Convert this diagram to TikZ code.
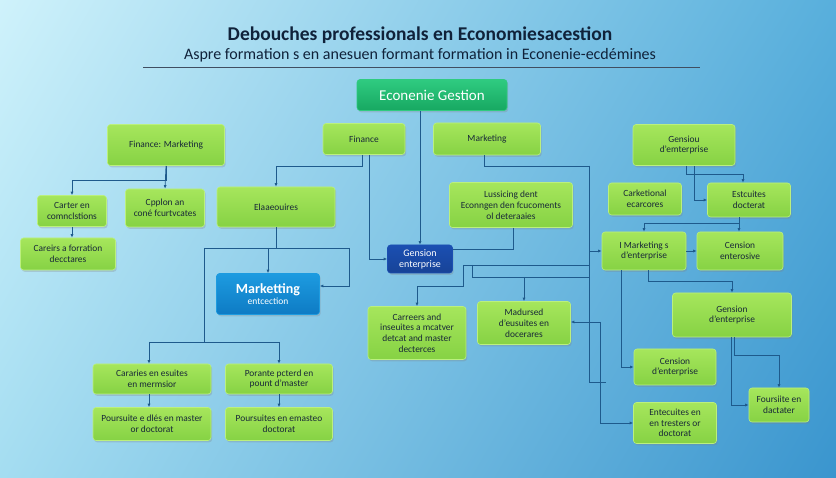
\documentclass[tikz,border=0pt]{standalone}
\usepackage{fontspec}
\setmainfont{Carlito}
\usetikzlibrary{positioning}
\usetikzlibrary{arrows.meta}
\usetikzlibrary{shadows}
\usetikzlibrary{shadings}

\definecolor{bgul}{HTML}{CFF2FB}
\definecolor{bgur}{HTML}{58AFDC}
\definecolor{bgll}{HTML}{A4DDF1}
\definecolor{bglr}{HTML}{3A95CE}
\definecolor{boxtop}{HTML}{A6E65C}
\definecolor{boxbot}{HTML}{86D244}
\definecolor{boxrim}{HTML}{BBF07E}
\definecolor{boxtext}{HTML}{182838}
\definecolor{headtop}{HTML}{2FCB80}
\definecolor{headbot}{HTML}{17A862}
\definecolor{mktop}{HTML}{1D9BE0}
\definecolor{mkbot}{HTML}{0E7BC4}
\definecolor{gesfill}{HTML}{1B4FB2}
\definecolor{linecol}{HTML}{1E5A8C}
\definecolor{titlecol}{HTML}{10223A}

\begin{document}
\begin{tikzpicture}[x=1pt,y=-1pt,
    box/.style={rounded corners=3pt,top color=boxtop,bottom color=boxbot,draw=boxrim,line width=0.6pt,
        drop shadow={opacity=0.28,shadow xshift=1.2pt,shadow yshift=-1.8pt},
        text=boxtext,font=\fontsize{9.4}{10.8}\selectfont,align=center,inner sep=2pt},
    headbox/.style={box,top color=headtop,bottom color=headbot,draw=headtop,text=white,font=\fontsize{15}{17}\selectfont},
    mkbox/.style={box,top color=mktop,bottom color=mkbot,draw=mktop,text=white,font=\fontsize{9.5}{11}\selectfont},
    gesbox/.style={box,top color=gesfill,bottom color=gesfill!85!black,draw=gesfill,text=white,font=\fontsize{10}{11}\selectfont},
    link/.style={draw=linecol,line width=0.75pt},
    arr/.style={link,-{Latex[length=3.5pt,width=3pt]}}]

    \useasboundingbox (0,0) rectangle (836,478);
    \shade[upper left=bgul,upper right=bgur,lower left=bgll,lower right=bglr] (0,0) rectangle (836,478);

    \node (title) at (420,35) {\color{titlecol}\fontsize{19.5}{21}\selectfont\bfseries Debouches professionals en Economiesacestion};
    \node (subtitle) at (420,55) {\color{titlecol}\fontsize{16}{18}\selectfont Aspre formation s en anesuen formant formation in Econenie-ecdémines};
    \coordinate (ruleL) at (143,67);
    \coordinate (ruleR) at (700,67);
    \draw[draw=titlecol!80,line width=0.8pt] (ruleL) -- (ruleR);

    \node (top)[headbox,minimum width=150pt,minimum height=31pt] at (432,95) {Econenie Gestion};

    \node (finmkt)[box,minimum width=117pt,minimum height=41pt] at (166,145) {Finance: Marketing};
    \node (fin)[box,minimum width=82pt,minimum height=31pt] at (364,139) {Finance};
    \node (mkt)[box,minimum width=107pt,minimum height=32pt] at (487,139) {Marketing};
    \node (gensiou)[box,minimum width=102pt,minimum height=41pt] at (684,145) {Gensiou\\d'emterprise};

    \node (carter)[box,minimum width=69pt,minimum height=31pt] at (72,211) {Carter en\\comnclstions};
    \node (cpplon)[box,minimum width=79pt,minimum height=38pt] at (165,208) {Cpplon an\\coné fcurtvcates};
    \node (elaa)[box,minimum width=118pt,minimum height=40pt] at (276,207) {Elaaeouires};
    \node (careirs)[box,minimum width=95pt,minimum height=32pt] at (68,254) {Careirs a forration\\decctares};
    \node (lussic)[box,minimum width=123pt,minimum height=45pt] at (511,205) {Lussicing dent\\Econngen den fcucoments\\ol deteraaies};
    \node (gestent)[gesbox,minimum width=65pt,minimum height=28pt] at (420,259) {Gension\\enterprise};
    \node (mkent)[mkbox,minimum width=103pt,minimum height=41pt] at (268,294) {{\fontsize{14}{16}\selectfont\bfseries Marketting}\\entcection};

    \node (carket)[box,minimum width=73pt,minimum height=32pt] at (645,199) {Carketional\\ecarcores};
    \node (estc)[box,minimum width=83pt,minimum height=34pt] at (749,200) {Estcuites\\docterat};
    \node (imkt)[box,minimum width=84pt,minimum height=38pt] at (644,251) {I Marketing s\\d'enterprise};
    \node (censive)[box,minimum width=86pt,minimum height=38pt] at (740,251) {Cension\\enterosive};
    \node (genlow)[box,minimum width=119pt,minimum height=44pt] at (732,315) {Gension\\d'enterprise};
    \node (censent)[box,minimum width=82pt,minimum height=36pt] at (675,367) {Cension\\d'enterprise};
    \node (entec)[box,minimum width=83pt,minimum height=41pt] at (675,423) {Entecuites en\\en tresters or\\doctorat};
    \node (fous)[box,minimum width=60pt,minimum height=34pt] at (779,405) {Foursiite en\\dactater};

    \node (carreers)[box,minimum width=98pt,minimum height=53pt] at (417,333) {Carreers and\\inseuites a mcatver\\detcat and master\\decterces};
    \node (madur)[box,minimum width=93pt,minimum height=43pt] at (524,323) {Madursed\\d'eusuites en\\docerares};

    \node (cararies)[box,minimum width=118pt,minimum height=30pt] at (152,379) {Cararies en esuites\\en mermsior};
    \node (porante)[box,minimum width=107pt,minimum height=30pt] at (279,379) {Porante pcterd en\\pount d'master};
    \node (poursuite)[box,minimum width=118pt,minimum height=33pt] at (152,424) {Poursuite e dlés en master\\or doctorat};
    \node (poursuites)[box,minimum width=107pt,minimum height=33pt] at (279,424) {Poursuites en emasteo\\doctorat};

    \coordinate (eL) at (204,248);
    \coordinate (eR) at (349,248);
    \coordinate (bL) at (149,342);
    \coordinate (bR) at (279,342);
    \coordinate (mR) at (589,166);
    \coordinate (mB) at (589,382);
    \coordinate (mStub) at (606,382);
    \coordinate (gA) at (463,265);
    \coordinate (gB) at (589,265);
    \coordinate (hA) at (472,277);
    \coordinate (hB) at (589,277);
    \coordinate (mJ) at (600,322);

    \draw[arr] (top.south -| gestent.north) -- (gestent.north);

    \draw[arr] (finmkt.south) -- ++(0,15) -| (carter.north);
    \draw[arr] (finmkt.south) -- (cpplon.north);
    \draw[arr] (carter.south) -- (carter.south |- careirs.north);

    \draw[arr] ([xshift=-2pt]fin.south) -- ++(0,12) -| (elaa.north);
    \draw[arr] ([xshift=5pt]fin.south) |- (gestent.west);

    \draw[link] (elaa.south) -- (elaa.south |- eL);
    \draw[link] (eL) -- (eR);
    \draw[arr] (mkent.north |- eL) -- (mkent.north);
    \draw[arr] (eR) |- ([yshift=8pt]mkent.east);
    \draw[link] (eL) -- (eL |- bL);
    \draw[link] (bL) -- (bR);
    \draw[arr] (bL) -- (bL |- cararies.north);
    \draw[arr] (bR) -- (bR |- porante.north);
    \draw[arr] (cararies.south -| bL) -- (poursuite.north -| bL);
    \draw[arr] (porante.south) -- (poursuites.north);

    \draw[link] ([xshift=-3pt]mkt.south) |- (mR);
    \draw[arr] (mR) |- (imkt.west);
    \draw[link] (mR) -- (mB) -- (mStub);
    \draw[link] ([xshift=2pt]lussic.south) |- ([yshift=10pt]gestent.east);
    \draw[arr] (gB) -- (gA) -- ++(0,21) -| (carreers.north);
    \draw[link] (gA -| hA) -- (hA) -- (hB);
    \draw[arr] (madur.north |- hA) -- (madur.north);
    \draw[arr] (mJ) -- (mJ -| madur.east);
    \draw[arr] (mJ) |- (entec.west);

    \draw[arr] ([xshift=2pt]gensiou.south) -- ++(0,9) -| ([xshift=-6pt]estc.north);
    \draw[arr] ([xshift=10pt]gensiou.south) |- (estc.west);
    \draw[arr] ([xshift=-10pt]estc.south) -- ++(0,6) -| (imkt.north);
    \draw[arr] ([xshift=-10pt]estc.south) -- ([xshift=-1pt]censive.north);
    \draw[arr] (imkt.east) -- (censive.west);
    \draw[arr] ([xshift=-23pt]imkt.south) |- (censent.west);
    \draw[arr] ([xshift=4pt]imkt.south) -- ++(0,11) -| (genlow.north);
    \draw[arr] ([xshift=-1pt]genlow.south) |- (fous.west);
    \draw[arr] ([xshift=2pt]genlow.south) -- ++(0,18) -| (fous.north);
\end{tikzpicture}
\end{document}
